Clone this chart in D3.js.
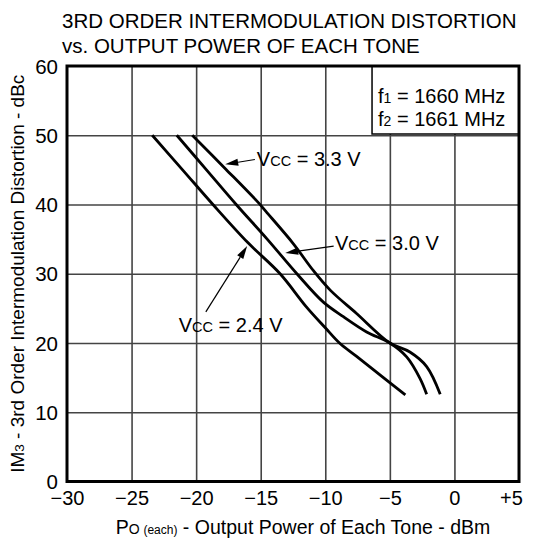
<!DOCTYPE html>
<html><head><meta charset="utf-8">
<script src="https://cdn.jsdelivr.net/npm/d3@7/dist/d3.min.js"></script>
<style>
body{margin:0;background:#fff}
text{font-family:"Liberation Sans",Arial,Helvetica,sans-serif;fill:#000}
</style>
</head><body>
<svg id="chart" width="537" height="543"></svg>
<script>
// ---- data ----
const titleLines = ["3RD ORDER INTERMODULATION DISTORTION", "vs. OUTPUT POWER OF EACH TONE"];
const xTicks = [-30, -25, -20, -15, -10, -5, 0, 5];
const xTickLabels = ["\u221230", "\u221225", "\u221220", "\u221215", "\u221210", "\u22125", "0", "+5"];
const yTicks = [0, 10, 20, 30, 40, 50, 60];
const yTickLabels = ["0", "10", "20", "30", "40", "50", "60"];
const vccLabels = ["2.4 V", "3.0 V", "3.3 V"];
const vcc24 = [[-23.4,50],[-21.0,44.9],[-18.7,40],[-16.0,34.5],[-13.5,30],[-11.5,25.3],[-10.0,22.2],[-8.9,20.0],[-7.6,18.1],[-5.5,15.0],[-3.8,12.5]];
const vcc30 = [[-21.5,50],[-19.2,45],[-16.9,40],[-14.5,35],[-12.2,30],[-10.15,25.9],[-8.6,23.8],[-6.8,21.6],[-5.0,20.0],[-3.7,18.0],[-2.67,14.9],[-2.15,12.6]];
const vcc33 = [[-20.3,50],[-17.7,45.1],[-15.2,40.3],[-14.6,39.0],[-12.5,34.4],[-10.9,30.4],[-9.6,27.6],[-7.6,24.3],[-5.0,20.0],[-3.45,18.7],[-2.15,16.6],[-1.1,12.6]];
const freqLines = [["f", "1", " = 1660 MHz"], ["f", "2", " = 1661 MHz"]];

// ---- layout ----
const W = 537, H = 543;
const m = {left: 67, right: 519, top: 66, bottom: 481.5};
const svg = d3.select("#chart");
const x = d3.scaleLinear().domain([-30, 5]).range([m.left, m.right]);
const y = d3.scaleLinear().domain([0, 60]).range([m.bottom, m.top]);

// title
svg.selectAll("text.title").data(titleLines).enter().append("text")
  .attr("class", "title").attr("x", 62).attr("y", (d, i) => 28 + i * 25)
  .attr("font-size", 20.5).text(d => d);

// grid
const g = svg.append("g");
g.append("g").attr("transform", `translate(0,${m.bottom})`)
  .call(d3.axisBottom(x).tickValues(xTicks.slice(1, -1)).tickSize(-(m.bottom - m.top)).tickFormat(""))
  .call(s => s.select(".domain").remove())
  .call(s => s.selectAll(".tick line").attr("stroke", "#444").attr("stroke-width", 1.6));
g.append("g").attr("transform", `translate(${m.left},0)`)
  .call(d3.axisLeft(y).tickValues(yTicks.slice(1, -1)).tickSize(-(m.right - m.left)).tickFormat(""))
  .call(s => s.select(".domain").remove())
  .call(s => s.selectAll(".tick line").attr("stroke", "#444").attr("stroke-width", 1.6));

// tick labels
const xl = svg.append("g").attr("transform", `translate(0,${m.bottom})`)
  .call(d3.axisBottom(x).tickValues(xTicks).tickSize(0).tickPadding(9)
    .tickFormat((d, i) => xTickLabels[i]));
xl.select(".domain").remove();
xl.selectAll("text").attr("font-size", 20).attr("font-family", "Liberation Sans, Arial, sans-serif").attr("fill", "#000");
xl.selectAll(".tick").filter(d => d === 5).select("text").attr("dx", -8);
const yl = svg.append("g").attr("transform", `translate(${m.left},0)`)
  .call(d3.axisLeft(y).tickValues(yTicks).tickSize(0).tickPadding(9)
    .tickFormat((d, i) => yTickLabels[i]));
yl.select(".domain").remove();
yl.selectAll("text").attr("font-size", 20.5).attr("font-family", "Liberation Sans, Arial, sans-serif").attr("fill", "#000").attr("dy", "0.35em");

// legend box
const bx = x(-6.38), by = y(60), bh = 68;
svg.append("rect").attr("x", bx).attr("y", by).attr("width", m.right - bx).attr("height", bh)
  .attr("fill", "#fff").attr("stroke", "#000").attr("stroke-width", 1.5);
freqLines.forEach((f, i) => {
  const t = svg.append("text").attr("x", bx + 6).attr("y", by + 37 + i * 23).attr("font-size", 20);
  t.append("tspan").text(f[0]);
  t.append("tspan").attr("font-size", 14).text(f[1]);
  t.append("tspan").text(f[2]);
});

// curves
const line = d3.line().x(d => x(d[0])).y(d => y(d[1])).curve(d3.curveCatmullRom.alpha(0.5));
[vcc24, vcc30, vcc33].forEach(s => {
  svg.append("path").attr("d", line(s)).attr("fill", "none").attr("stroke", "#000")
    .attr("stroke-width", 2.8).attr("stroke-linejoin", "round").attr("stroke-linecap", "butt");
});

// frame
svg.append("rect").attr("x", m.left).attr("y", m.top).attr("width", m.right - m.left)
  .attr("height", m.bottom - m.top).attr("fill", "none").attr("stroke", "#000").attr("stroke-width", 3);

// annotations: label position, arrow tail, arrow tip (data units)
const annos = [
  {label: vccLabels[2], lx: -15.3, ly: 45.5, tail: [-15.45, 46.5], tip: [-17.75, 45.8]},
  {label: vccLabels[1], lx: -9.25, ly: 33.5, tail: [-9.35, 34.0], tip: [-13.1, 33.0]},
  {label: vccLabels[0], lx: -21.35, ly: 21.6, tail: [-19.25, 24.5], tip: [-16.05, 34.0]}
];
annos.forEach(a => {
  const t = svg.append("text").attr("x", x(a.lx)).attr("y", y(a.ly)).attr("font-size", 20);
  t.append("tspan").text("V");
  t.append("tspan").attr("font-size", 14.5).text("CC");
  t.append("tspan").text(" = " + a.label);
  const x1 = x(a.tail[0]), y1 = y(a.tail[1]), x2 = x(a.tip[0]), y2 = y(a.tip[1]);
  const ang = Math.atan2(y2 - y1, x2 - x1), L = 13, hw = 3.6;
  const bxh = x2 - L * Math.cos(ang), byh = y2 - L * Math.sin(ang);
  svg.append("line").attr("x1", x1).attr("y1", y1).attr("x2", bxh).attr("y2", byh)
    .attr("stroke", "#000").attr("stroke-width", 1.2);
  const p = [[x2, y2],
    [bxh + hw * Math.sin(ang), byh - hw * Math.cos(ang)],
    [bxh - hw * Math.sin(ang), byh + hw * Math.cos(ang)]];
  svg.append("path").attr("d", "M" + p.map(q => q.join(",")).join("L") + "Z").attr("fill", "#000");
});

// axis titles
const xt = svg.append("text").attr("x", 303).attr("y", 534).attr("text-anchor", "middle").attr("font-size", 19.5);
xt.append("tspan").text("P");
xt.append("tspan").attr("font-size", 14).text("O ");
xt.append("tspan").attr("font-size", 12).text("(each)");
xt.append("tspan").text(" - Output Power of Each Tone - dBm");

const yt = svg.append("text").attr("transform", `translate(24,${(m.top + m.bottom) / 2}) rotate(-90)`)
  .attr("text-anchor", "middle").attr("font-size", 19);
yt.append("tspan").text("IM");
yt.append("tspan").attr("font-size", 13.5).text("3");
yt.append("tspan").text(" - 3rd Order Intermodulation Distortion - dBc");
</script>
</body></html>
